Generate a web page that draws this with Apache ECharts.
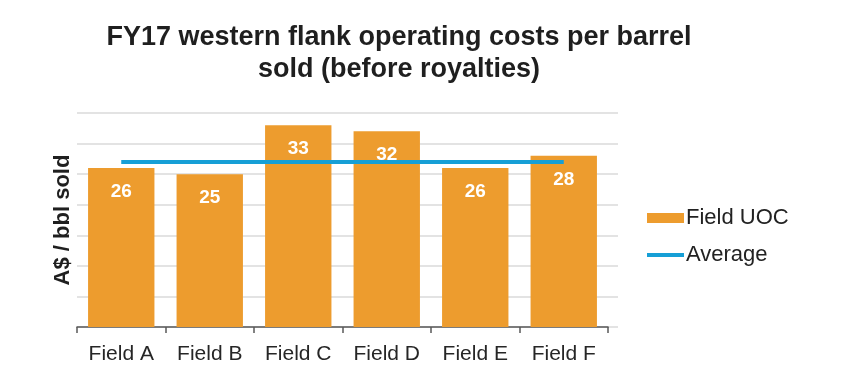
<!DOCTYPE html>
<html>
<head>
<meta charset="utf-8">
<script src="https://cdn.jsdelivr.net/npm/echarts@6/dist/echarts.min.js"></script>
<style>
  html, body { margin: 0; padding: 0; background: #fff; }
  #chart { width: 842px; height: 375px; }
</style>
</head>
<body>
<div id="chart"></div>
<script>
// values
const fields = ['Field A', 'Field B', 'Field C', 'Field D', 'Field E', 'Field F']
const fieldUoc = [26, 25, 33, 32, 26, 28]
const averageUoc = [27, 27, 27, 27, 27, 27]

const chart = echarts.init(document.getElementById('chart'))
const font = 'Liberation Sans, Arial, sans-serif'

chart.setOption({
  animation: false,
  textStyle: { fontFamily: font },
  title: {
    text: 'FY17 western flank operating costs per barrel\nsold (before royalties)',
    left: 394,
    textAlign: 'center',
    top: 17,
    textStyle: { fontSize: 27, fontWeight: 'bold', color: '#1f1f1f', lineHeight: 32, fontFamily: font },
  },
  legend: {
    orient: 'vertical',
    left: 642,
    top: 202,
    itemWidth: 37,
    itemHeight: 10,
    itemGap: 15,
    textStyle: { fontSize: 22, color: '#222', fontFamily: font, padding: [0, 0, 0, -3] },
    data: [
      { name: 'Field UOC', icon: 'rect' },
      // flat line icon, no marker
      { name: 'Average', icon: 'path://M0,0 L37,0 L37,4 L0,4 Z' },
    ],
  },
  grid: [
    // gridlines run a little further right than the category axis
    { left: 77, right: 224, top: 113, bottom: 48 },
    { left: 77, right: 234, top: 113, bottom: 48 },
  ],
  xAxis: [
    { gridIndex: 0, type: 'value', show: false },
    {
      gridIndex: 1,
      type: 'category',
      data: fields,
      axisLine: { lineStyle: { color: '#595959', width: 1.5 } },
      axisTick: { show: true, interval: 0, length: 6, lineStyle: { color: '#595959', width: 1.5 } },
      axisLabel: { interval: 0, fontSize: 21, color: '#262626', margin: 17, fontFamily: font },
    },
  ],
  yAxis: [
    {
      gridIndex: 0,
      type: 'value',
      min: 0,
      max: 35,
      interval: 5,
      name: 'A$ / bbl sold',
      nameLocation: 'middle',
      nameGap: 3,
      nameTextStyle: { fontSize: 22, fontWeight: 'bold', color: '#1f1f1f', fontFamily: font },
      axisLine: { show: false },
      axisTick: { show: false },
      axisLabel: { show: false },
      splitLine: { lineStyle: { color: '#e3e3e3', width: 2 } },
    },
    {
      gridIndex: 1,
      type: 'value',
      min: 0,
      max: 35,
      interval: 5,
      show: false,
      splitLine: { show: false },
    },
  ],
  series: [
    {
      name: 'Field UOC',
      type: 'bar',
      xAxisIndex: 1,
      yAxisIndex: 1,
      data: fieldUoc,
      barCategoryGap: '25%',
      itemStyle: { color: '#ed9c2e' },
      label: {
        show: true,
        position: 'insideTop',
        distance: 14,
        color: '#fff',
        fontSize: 19,
        fontWeight: 'bold',
        fontFamily: font,
      },
    },
    {
      name: 'Average',
      type: 'line',
      xAxisIndex: 1,
      yAxisIndex: 1,
      data: averageUoc,
      symbol: 'none',
      lineStyle: { color: '#169fd6', width: 4 },
      itemStyle: { color: '#169fd6' },
      z: 3,
    },
  ],
})
</script>
</body>
</html>
